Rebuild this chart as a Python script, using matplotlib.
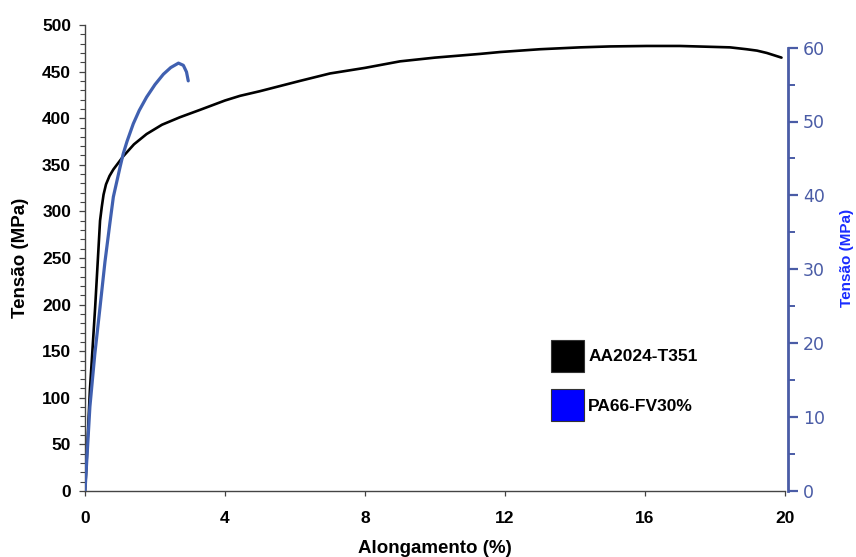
import matplotlib
matplotlib.use("Agg")
import matplotlib.pyplot as plt
from matplotlib.patches import Patch
from matplotlib.ticker import MultipleLocator

plt.rcParams['font.family'] = ['Liberation Sans', 'DejaVu Sans']

# AA2024-T351: alongamento (%) x tensao (MPa), eixo esquerdo
al_x = [0, 0.03, 0.14, 0.29, 0.43, 0.48, 0.53, 0.6, 0.7, 0.81, 0.95, 1.09, 1.4, 1.76,
        2.2, 2.71, 3.29, 4.0, 4.43, 5.0, 6.14, 7.0, 8.0, 9.0, 10.0, 11.29, 11.86,
        13.0, 14.14, 15.0, 16.05, 17.0, 18.43, 18.9, 19.2, 19.48, 19.9]
al_y = [0, 19, 108, 197, 290, 305, 318, 329, 338, 345, 352, 359, 372, 383,
        393, 401, 409, 419, 424, 429, 440, 448, 454, 461, 465, 469, 471,
        474, 476, 477, 477.5, 477.5, 476, 474, 472.5, 470, 465]

# PA66-FV30%: eixo direito
pa_x = [0, 0.14, 0.28, 0.43, 0.57, 0.71, 0.81, 1.0, 1.09, 1.2, 1.38, 1.55, 1.76,
        2.0, 2.24, 2.45, 2.67, 2.81, 2.9, 2.95]
pa_y = [0, 11.4, 18.5, 24.9, 31.0, 36.2, 39.8, 43.8, 45.6, 47.3, 49.7, 51.5, 53.3,
        55.0, 56.4, 57.3, 57.9, 57.6, 56.7, 55.5]

legend_labels = ['AA2024-T351', 'PA66-FV30%']
blue_axis = '#4a5ca6'

fig = plt.figure(figsize=(8.56, 5.57), dpi=100)
ax = fig.add_axes([85 / 856, 1 - 491 / 557, 700 / 856, 466 / 557])

ax.plot(al_x, al_y, color='black', lw=1.9, solid_capstyle='round',
        solid_joinstyle='round')
ax.set_xlim(0, 20)
ax.set_ylim(0, 500)
ax.xaxis.set_major_locator(MultipleLocator(4))
ax.yaxis.set_major_locator(MultipleLocator(50))
ax.yaxis.set_minor_locator(MultipleLocator(10))
ax.spines['top'].set_visible(False)
ax.spines['right'].set_visible(False)
for s in ('left', 'bottom'):
    ax.spines[s].set_color('#444444')
    ax.spines[s].set_linewidth(1.0)
ax.tick_params(axis='y', which='major', direction='out', length=4, width=0.9,
               color='#444444', pad=6, labelsize=12.5)
ax.tick_params(axis='y', which='minor', direction='out', length=3.5, width=0.8,
               color='#444444')
ax.tick_params(axis='x', which='major', direction='out', length=3.5, width=0.9,
               color='#444444', pad=11, labelsize=12.5)
for lab in ax.get_xticklabels() + ax.get_yticklabels():
    lab.set_fontweight('bold')
ax.set_xlabel('Alongamento (%)', fontsize=13.5, fontweight='bold', labelpad=10)
ax.set_ylabel('Tensão (MPa)', fontsize=13.5, fontweight='bold', labelpad=9)

ax2 = ax.twinx()
ax2.plot(pa_x, pa_y, color='#4060b0', lw=2.3, solid_capstyle='round',
         solid_joinstyle='round')
ax2.set_ylim(0, (491 - 25) / 7.39)
ax2.yaxis.set_major_locator(MultipleLocator(10))
ax2.yaxis.set_minor_locator(MultipleLocator(5))
for s in ('top', 'left', 'bottom'):
    ax2.spines[s].set_visible(False)
ax2.spines['right'].set_bounds(0, 60)
ax2.spines['right'].set_position(('outward', 2))
ax2.spines['right'].set_color(blue_axis)
ax2.spines['right'].set_linewidth(2.0)
ax2.tick_params(axis='y', which='major', direction='out', length=7, width=1.6,
                color=blue_axis, labelcolor=blue_axis, pad=4, labelsize=12.5)
ax2.tick_params(axis='y', which='minor', direction='out', length=5, width=1.4,
                color=blue_axis)
for lab in ax2.get_yticklabels():
    lab.set_fontfamily('DejaVu Sans')
ax2.set_ylabel('Tensão (MPa)', fontsize=11, fontweight='bold', color='#1a2cff',
               labelpad=11)

handles = [Patch(facecolor='black', edgecolor='#333333', lw=0.8),
           Patch(facecolor='#0000ff', edgecolor='#333333', lw=0.8)]
leg = ax2.legend(handles, legend_labels, loc='upper left',
                 bbox_to_anchor=(551 / 856, 1 - 340 / 557),
                 bbox_transform=fig.transFigure, frameon=False,
                 borderpad=0, borderaxespad=0, handlelength=1.9, handleheight=2.46,
                 handletextpad=0.25, labelspacing=1.0,
                 prop={'weight': 'bold', 'size': 12.5})

fig.savefig('out.png', dpi=100)
